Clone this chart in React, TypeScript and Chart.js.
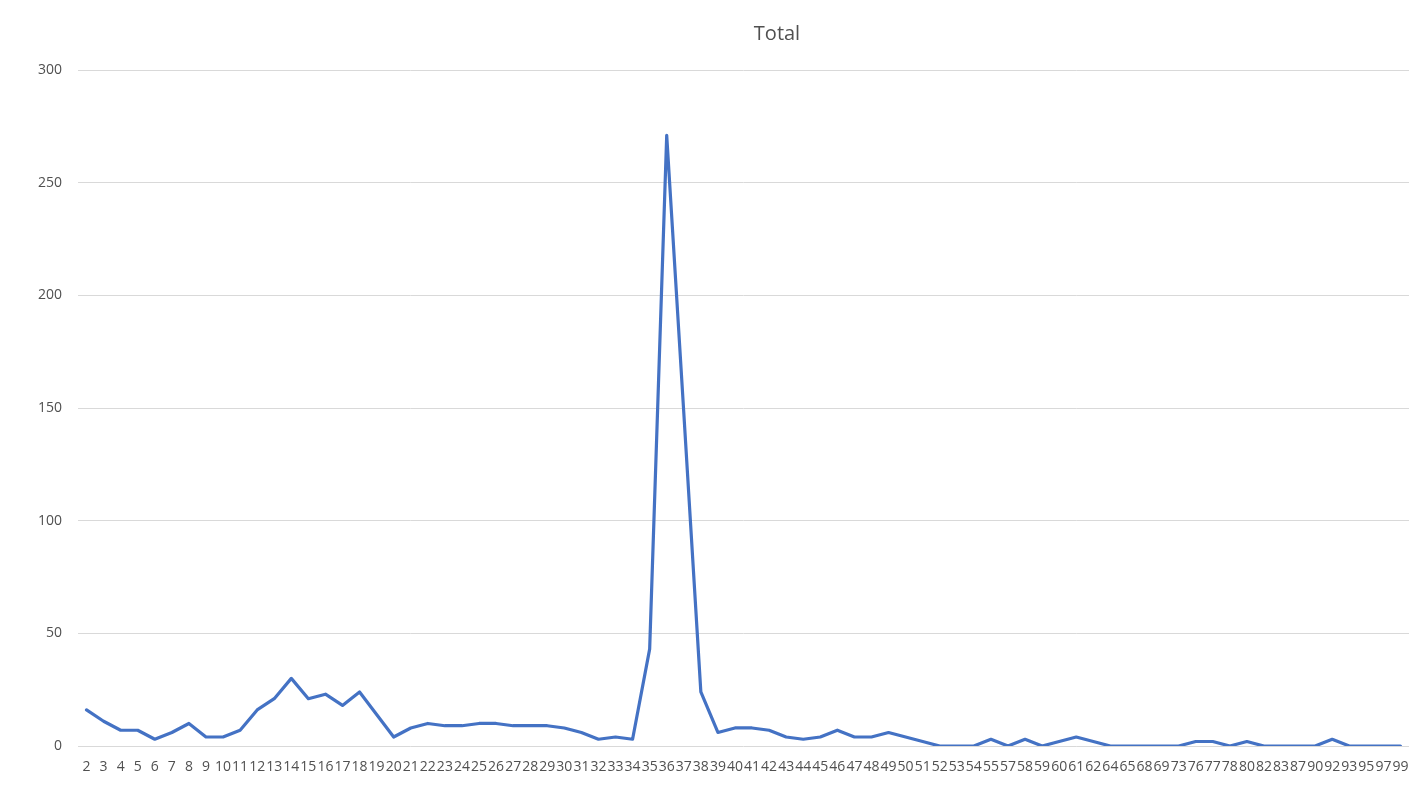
import React, { useEffect, useRef } from "react";
import { Chart, registerables } from "chart.js";

Chart.register(...registerables);

const categories: string[] = [
  "2", "3", "4", "5", "6", "7", "8", "9", "10", "11", "12", "13", "14", "15", "16", "17", "18", "19",
  "20", "21", "22", "23", "24", "25", "26", "27", "28", "29", "30", "31", "32", "33", "34", "35", "36",
  "37", "38", "39", "40", "41", "42", "43", "44", "45", "46", "47", "48", "49", "50", "51", "52", "53",
  "54", "55", "57", "58", "59", "60", "61", "62", "64", "65", "68", "69", "73", "76", "77", "78", "80",
  "82", "83", "87", "90", "92", "93", "95", "97", "99",
];

const totalValues: number[] = [
  16, 11, 7, 7, 3, 6, 10, 4, 4, 7, 16, 21, 30, 21, 23, 18, 24, 14,
  4, 8, 10, 9, 9, 10, 10, 9, 9, 9, 8, 6, 3, 4, 3, 43, 271,
  148, 24, 6, 8, 8, 7, 4, 3, 4, 7, 4, 4, 6, 4, 2, 0, 0,
  0, 3, 0, 3, 0, 2, 4, 2, 0, 0, 0, 0, 0, 2, 2, 0, 2,
  0, 0, 0, 0, 3, 0, 0, 0, 0,
];

const yTicks: number[] = [0, 50, 100, 150, 200, 250, 300];

const TITLE = "Total";
const FONT = "'Open Sans', 'Noto Sans', sans-serif";
const TEXT = "#505050";
const GRID = "#d9d9d9";
const LINE = "#4472C4";

export default function App() {
  const ref = useRef<HTMLCanvasElement | null>(null);

  useEffect(() => {
    if (!ref.current) return;
    const chart = new Chart(ref.current, {
      type: "line",
      data: {
        labels: categories,
        datasets: [
          {
            label: TITLE,
            data: totalValues,
            borderColor: LINE,
            backgroundColor: LINE,
            borderWidth: 3.2,
            pointRadius: 0,
            tension: 0,
            borderCapStyle: "round",
            borderJoinStyle: "round",
          },
        ],
      },
      options: {
        responsive: false,
        animation: false,
        layout: { padding: { left: 0, right: 19, top: 70, bottom: 0 } },
        plugins: {
          legend: { display: false },
          title: { display: false },
          tooltip: { enabled: false },
        },
        scales: {
          x: {
            type: "category",
            offset: true,
            grid: { display: false, drawTicks: false },
            border: { display: false },
            ticks: {
              autoSkip: false,
              maxRotation: 0,
              minRotation: 0,
              padding: 13,
              color: TEXT,
              font: { family: FONT, size: 14 },
            },
            afterFit: (scale: any) => {
              scale.height = 40;
            },
          },
          y: {
            min: 0,
            max: 300,
            afterBuildTicks: (scale: any) => {
              scale.ticks = yTicks.map((v) => ({ value: v }));
            },
            grid: { color: GRID, lineWidth: 1, drawTicks: false },
            border: { display: false },
            ticks: {
              padding: 16,
              color: TEXT,
              font: { family: FONT, size: 14 },
            },
            afterFit: (scale: any) => {
              scale.width = 78;
            },
          },
        },
      },
    });
    return () => chart.destroy();
  }, []);

  return (
    <div style={{ position: "absolute", left: 0, top: 0, width: 1428, height: 786, background: "#fff" }}>
      <canvas ref={ref} width={1428} height={786} style={{ display: "block" }} />
      <div
        style={{
          position: "absolute",
          left: 677,
          top: 23,
          width: 200,
          textAlign: "center",
          fontFamily: FONT,
          fontSize: 20,
          lineHeight: "20px",
          color: TEXT,
        }}
      >
        {TITLE}
      </div>
    </div>
  );
}
